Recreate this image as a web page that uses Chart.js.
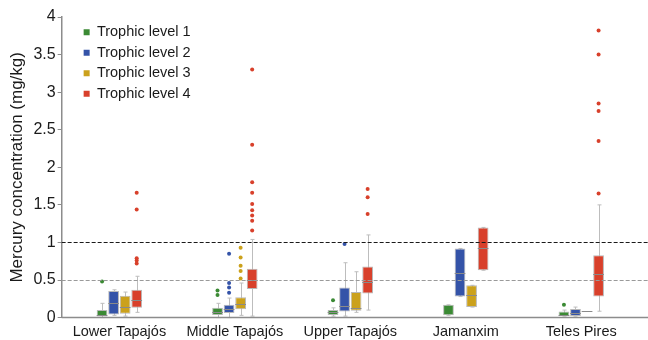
<!DOCTYPE html>
<html>
<head>
<meta charset="utf-8">
<script src="https://cdn.jsdelivr.net/npm/chart.js@4.4.1/dist/chart.umd.min.js"></script>
<style>
  html, body { margin: 0; padding: 0; background: #fff; }
  #wrap { width: 648px; height: 340px; }
</style>
</head>
<body>
<div id="wrap"><canvas id="hgChart"></canvas></div>
<script>
// Sites along the river basin
const sites = ['Lower Tapajós', 'Middle Tapajós', 'Upper Tapajós', 'Jamanxim', 'Teles Pires'];
const levelNames = ['Trophic level 1', 'Trophic level 2', 'Trophic level 3', 'Trophic level 4'];

// box stats per site: [whisker low, q1, median, q3, whisker high]  (mg/kg)
const tl1Stats = [[0.0, 0.015, 0.03, 0.10, 0.19], [0.0, 0.035, 0.08, 0.13, 0.19], [0.02, 0.035, 0.07, 0.10, 0.13], [0.03, 0.03, null, 0.17, 0.17], [0.02, 0.02, 0.04, 0.08, 0.10]];
const tl2Stats = [[0.03, 0.04, 0.19, 0.355, 0.37], [0.0, 0.06, 0.12, 0.17, 0.26], [0.02, 0.08, 0.155, 0.40, 0.73], [0.28, 0.28, 0.60, 0.92, 0.92], [0.02, 0.02, 0.06, 0.115, 0.14]];
const tl3Stats = [[0.02, 0.05, 0.14, 0.29, 0.34], [0.03, 0.11, 0.18, 0.27, 0.46], [0.07, 0.09, 0.13, 0.34, 0.61], [0.14, 0.14, 0.30, 0.43, 0.43], [0.09, 0.09, 0.09, 0.09, 0.09]];
const tl4Stats = [[0.07, 0.13, 0.23, 0.37, 0.55], [0.02, 0.38, 0.50, 0.65, 1.04], [0.10, 0.32, 0.475, 0.68, 1.10], [0.63, 0.63, 0.93, 1.20, 1.20], [0.085, 0.28, 0.58, 0.83, 1.50]];

// outliers per site
const tl1Outliers = [[0.48], [0.30, 0.36], [0.23], [], [0.17]];
const tl2Outliers = [[], [0.33, 0.40, 0.46, 0.85], [0.98], [], []];
const tl3Outliers = [[], [0.52, 0.62, 0.69, 0.80, 0.93], [], [], []];
const tl4Outliers = [[0.72, 0.76, 0.79, 1.44, 1.66], [1.16, 1.29, 1.36, 1.43, 1.51, 1.66, 1.80, 2.30, 3.30], [1.38, 1.60, 1.71], [], [1.65, 2.35, 2.75, 2.85, 3.50, 3.82]];

// reference thresholds
const refLines = [1, 0.5];

const colors = ['#3b8a34', '#3453a8', '#cba11c', '#d8402b'];
const allStats = [tl1Stats, tl2Stats, tl3Stats, tl4Stats];
const allOutliers = [tl1Outliers, tl2Outliers, tl3Outliers, tl4Outliers];

const FONT = 'Liberation Sans, Arial, sans-serif';

// whiskers, medians, outliers and the dashed thresholds
const boxExtras = {
    id: 'boxExtras',
    afterLayout(chart) {
        // put the legend in the top-left corner of the plot
        const lg = chart.legend, a = chart.chartArea;
        const w = lg.width, h = lg.height;
        lg.left = a.left + 16; lg.right = lg.left + w;
        lg.top = a.top + 2; lg.bottom = lg.top + h;
    },
    beforeDatasetsDraw(chart) {
        const ctx = chart.ctx, y = chart.scales.y;
        ctx.save();
        ctx.strokeStyle = '#bdbdbd';
        ctx.lineWidth = 1;
        allStats.forEach((stats, d) => {
            const meta = chart.getDatasetMeta(d);
            stats.forEach((s, i) => {
                const bar = meta.data[i];
                const x = Math.round(bar.x) + 0.5;
                const lo = y.getPixelForValue(s[0]), hi = y.getPixelForValue(s[4]);
                if (Math.abs(lo - hi) < 0.5) return;
                ctx.beginPath();
                ctx.moveTo(x, lo); ctx.lineTo(x, hi);
                ctx.moveTo(x - 2, lo); ctx.lineTo(x + 2, lo);
                ctx.moveTo(x - 2, hi); ctx.lineTo(x + 2, hi);
                ctx.stroke();
            });
        });
        ctx.restore();
    },
    afterDatasetsDraw(chart) {
        const ctx = chart.ctx, y = chart.scales.y, a = chart.chartArea;
        ctx.save();
        // medians
        ctx.strokeStyle = '#8a8a8a';
        ctx.lineWidth = 1;
        allStats.forEach((stats, d) => {
            const meta = chart.getDatasetMeta(d);
            stats.forEach((s, i) => {
                if (s[2] === null) return;
                const bar = meta.data[i];
                const ym = Math.round(y.getPixelForValue(s[2])) + 0.5;
                ctx.beginPath();
                ctx.moveTo(bar.x - bar.width / 2, ym);
                ctx.lineTo(bar.x + bar.width / 2, ym);
                ctx.stroke();
            });
        });
        // outliers
        allOutliers.forEach((outs, d) => {
            const meta = chart.getDatasetMeta(d);
            ctx.fillStyle = colors[d];
            outs.forEach((list, i) => {
                const bar = meta.data[i];
                list.forEach(v => {
                    ctx.beginPath();
                    ctx.arc(bar.x, y.getPixelForValue(v), 2, 0, Math.PI * 2);
                    ctx.fill();
                });
            });
        });
        // dashed thresholds
        refLines.forEach((v, k) => {
            const yy = Math.round(y.getPixelForValue(v)) + 0.5;
            ctx.strokeStyle = k === 0 ? '#1a1a1a' : '#9a9a9a';
            ctx.lineWidth = 1;
            ctx.setLineDash([4, 2]);
            ctx.beginPath();
            ctx.moveTo(a.left, yy);
            ctx.lineTo(chart.width, yy);
            ctx.stroke();
        });
        ctx.setLineDash([]);
        // x axis line runs out to the edge
        ctx.strokeStyle = '#8c8c8c';
        ctx.lineWidth = 1.5;
        ctx.beginPath();
        ctx.moveTo(a.left, a.bottom);
        ctx.lineTo(chart.width, a.bottom);
        ctx.stroke();
        ctx.restore();
    }
};

const ctx = document.getElementById('hgChart').getContext('2d');
const hgChart = new Chart(ctx, {
    type: 'bar',
    data: {
        labels: sites,
        datasets: levelNames.map((name, d) => ({
            label: name,
            data: allStats[d].map(s => [s[1], s[3]]),
            backgroundColor: colors[d],
            borderColor: '#b8b8b8',
            borderWidth: 1,
            borderSkipped: false,
            categoryPercentage: 0.4,
            barPercentage: 0.93
        }))
    },
    options: {
        responsive: true,
        maintainAspectRatio: false,
        animation: false,
        layout: { padding: { top: 17, right: 9, bottom: -7, left: 7 } },
        plugins: {
            tooltip: { enabled: false },
            legend: {
                position: 'chartArea',
                align: 'start',
                labels: {
                    boxWidth: 6,
                    boxHeight: 6,
                    padding: 6,
                    color: '#1a1a1a',
                    font: { family: FONT, size: 14.5 },
                    generateLabels: chart => Chart.defaults.plugins.legend.labels.generateLabels(chart)
                        .map(l => ({ ...l, strokeStyle: l.fillStyle, lineWidth: 0 }))
                }
            }
        },
        scales: {
            x: {
                grid: { display: false, drawTicks: false },
                border: { display: false },
                ticks: { color: '#1a1a1a', padding: 6, font: { family: FONT, size: 14.5 } }
            },
            y: {
                min: 0,
                max: 4,
                grid: { drawOnChartArea: false, drawTicks: true, tickLength: 4, color: '#8c8c8c' },
                border: { color: '#8c8c8c', width: 1.5 },
                ticks: {
                    stepSize: 0.5,
                    color: '#1a1a1a',
                    padding: 2,
                    font: { family: FONT, size: 16 },
                    callback: v => String(v)
                },
                title: {
                    display: true,
                    text: 'Mercury concentration (mg/kg)',
                    color: '#1a1a1a',
                    padding: { top: 0, bottom: 4 },
                    font: { family: FONT, size: 17 }
                }
            }
        }
    },
    plugins: [boxExtras]
});
</script>
</body>
</html>
